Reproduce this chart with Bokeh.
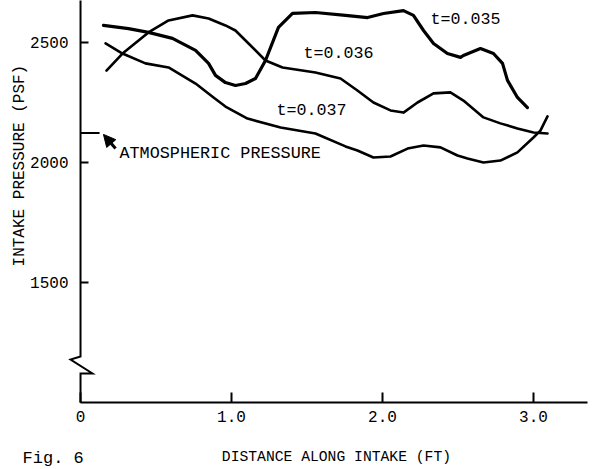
import math
from bokeh.plotting import figure
from bokeh.models import FixedTicker, Label, Arrow, NormalHead, Range1d
from bokeh.embed import file_html
from bokeh.resources import INLINE
from bokeh.core.properties import value

FONT = "Liberation Mono"

# ---- data (distance in ft, pressure in psf) ----
X_035 = [0.152, 0.318, 0.450, 0.609, 0.762, 0.848, 0.894, 0.960, 1.026, 1.093, 1.159, 1.225,
         1.311, 1.404, 1.556, 1.755, 1.901, 2.007, 2.139, 2.205, 2.272, 2.338, 2.430, 2.517,
         2.536, 2.649, 2.735, 2.795, 2.828, 2.894, 2.960]
P_035 = [2571, 2558, 2542, 2517, 2467, 2413, 2363, 2333, 2321, 2329, 2350, 2425,
         2563, 2621, 2625, 2613, 2604, 2621, 2633, 2613, 2550, 2496, 2454, 2438,
         2446, 2475, 2454, 2413, 2342, 2271, 2229]

X_036 = [0.172, 0.278, 0.450, 0.583, 0.742, 0.848, 0.960, 1.026, 1.113, 1.225, 1.338, 1.556,
         1.722, 1.834, 1.940, 2.053, 2.139, 2.232, 2.338, 2.450, 2.536, 2.669, 2.781, 2.894,
         3.000, 3.093]
P_036 = [2383, 2454, 2542, 2592, 2613, 2600, 2571, 2550, 2496, 2425, 2396, 2375,
         2350, 2300, 2250, 2217, 2208, 2250, 2288, 2292, 2258, 2188, 2163, 2142,
         2125, 2121]

X_037 = [0.166, 0.278, 0.430, 0.583, 0.762, 0.881, 0.960, 1.106, 1.325, 1.556, 1.755, 1.834,
         1.940, 2.053, 2.166, 2.272, 2.384, 2.497, 2.563, 2.669, 2.781, 2.894, 3.000, 3.046,
         3.093]
P_037 = [2496, 2454, 2413, 2396, 2329, 2271, 2233, 2183, 2146, 2121, 2067, 2050,
         2021, 2025, 2058, 2071, 2063, 2029, 2017, 2000, 2008, 2042, 2104, 2133,
         2192]

CURVE_LABELS = ["t=0.035", "t=0.036", "t=0.037"]
CURVE_LABEL_X = [2.318, 1.477, 1.298]
CURVE_LABEL_Y = [2596, 2454, 2217]

ATM_PRESSURE = 2123
ATM_TEXT = "ATMOSPHERIC PRESSURE"

Y_TICKS = [1500, 2000, 2500]
X_TICKS = [0, 1, 2, 3]
X_TICK_LABELS = {0: "0", 1: "1.0", 2: "2.0", 3: "3.0"}

X_TITLE = "DISTANCE ALONG INTAKE (FT)"
Y_TITLE = "INTAKE PRESSURE (PSF)"
CAPTION = "Fig. 6"

# axis line with break symbol (decoration)
AXIS_BREAK_X = [0, 0, -0.066, 0.079, 0, 0]
AXIS_BREAK_Y = [2680, 1192, 1179, 1121, 1121, 999]

p = figure(width=600, height=469, output_backend="svg", toolbar_location=None,
           x_range=Range1d(-0.530, 3.444), y_range=Range1d(720.8, 2675),
           min_border_left=0, min_border_right=0, min_border_top=0, min_border_bottom=0)
p.grid.visible = False
p.outline_line_color = None
p.background_fill_color = "white"

# y axis (fixed at x = 0)
ya = p.yaxis[0]
ya.fixed_location = 0
ya.ticker = FixedTicker(ticks=Y_TICKS)
ya.axis_line_color = None
ya.major_tick_in = 8
ya.major_tick_out = 0
ya.major_tick_line_width = 2
ya.major_tick_line_color = "black"
ya.minor_tick_line_color = None
ya.major_label_text_font = FONT
ya.major_label_text_font_size = "16px"
ya.major_label_text_color = "black"
ya.major_label_standoff = 12

# x axis (fixed at p = 1000)
xa = p.xaxis[0]
xa.fixed_location = 1000
xa.ticker = FixedTicker(ticks=X_TICKS)
xa.major_label_overrides = X_TICK_LABELS
xa.bounds = (0, 3.36)
xa.axis_line_width = 2
xa.axis_line_color = "black"
xa.major_tick_in = 10
xa.major_tick_out = 0
xa.major_tick_line_width = 2
xa.major_tick_line_color = "black"
xa.minor_tick_line_color = None
xa.major_label_text_font = FONT
xa.major_label_text_font_size = "16px"
xa.major_label_text_color = "black"
xa.major_label_standoff = 9

# y axis line with break
p.line(AXIS_BREAK_X, AXIS_BREAK_Y, line_width=2, line_color="black", line_join="miter")

# curves
p.line(X_035, P_035, line_width=3.2, line_color="black", line_join="round", line_cap="round")
p.line(X_036, P_036, line_width=2.6, line_color="black", line_join="round", line_cap="round")
p.line(X_037, P_037, line_width=2.6, line_color="black", line_join="round", line_cap="round")

p.text(x=CURVE_LABEL_X, y=CURVE_LABEL_Y, text=CURVE_LABELS, text_font=value(FONT),
       text_font_size="16.7px", text_baseline="middle", text_align="left", text_color="black")

# atmospheric pressure marker
p.segment(x0=[0], y0=[ATM_PRESSURE], x1=[0.126], y1=[ATM_PRESSURE], line_width=2, line_color="black")
p.text(x=[0.258], y=[2039], text=[ATM_TEXT], text_font=value(FONT), text_font_size="16.8px",
       text_baseline="middle", text_align="left", text_color="black")
p.add_layout(Arrow(end=NormalHead(size=12, fill_color="black", line_color="black"),
                   x_start=0.232, y_start=2058, x_end=0.152, y_end=2117,
                   line_width=3, line_color="black"))

# titles and caption
p.add_layout(Label(x=-0.4, y=1987, text=Y_TITLE, angle=math.pi / 2,
                   text_font=FONT, text_font_size="16px", text_align="center",
                   text_baseline="middle", text_color="black"))
p.add_layout(Label(x=1.695, y=771, text=X_TITLE, text_font=FONT, text_font_size="14.7px",
                   text_align="center", text_baseline="middle", text_color="black"))
p.add_layout(Label(x=-0.384, y=767, text=CAPTION, text_font=FONT, text_font_size="17px",
                   text_align="left", text_baseline="middle", text_color="black"))

open("out.html", "w").write(file_html(p, INLINE))
